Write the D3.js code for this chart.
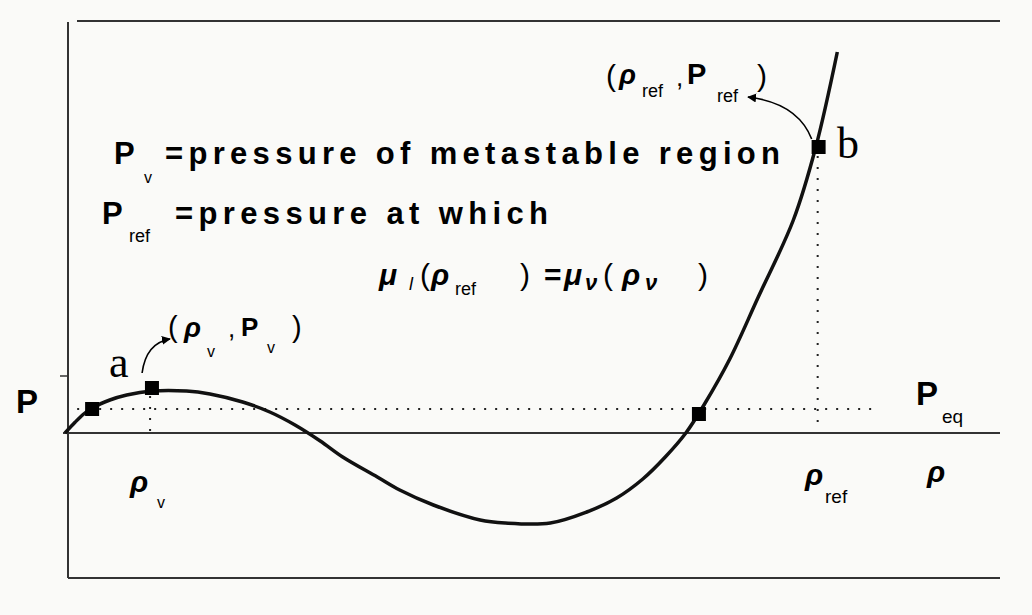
<!DOCTYPE html>
<html>
<head>
<meta charset="utf-8">
<script src="https://cdn.jsdelivr.net/npm/d3@7"></script>
<style>
  html, body { margin: 0; padding: 0; background: #fafaf8; }
  svg { display: block; }
  text { font-family: "Liberation Sans", Arial, sans-serif; fill: #000; }
</style>
</head>
<body>
<svg id="chart" width="1032" height="615"></svg>
<script>
// van der Waals-like isotherm: density (arbitrary units) vs pressure
const rho      = [0.00, 0.11, 0.20, 0.29, 0.48, 0.66, 0.93, 1.30, 1.55, 1.90, 2.19, 2.46, 2.73, 2.97, 3.34, 3.58, 3.94, 4.44, 4.71, 5.19, 5.58, 5.90, 6.18, 6.42, 6.64, 6.84, 7.11, 7.41, 7.79, 8.03, 8.26];
const pressure = [0.00, 0.11, 0.19, 0.25, 0.33, 0.38, 0.42, 0.42, 0.39, 0.31, 0.21, 0.08, -0.08, -0.24, -0.44, -0.57, -0.72, -0.87, -0.90, -0.90, -0.79, -0.65, -0.46, -0.24, 0.00, 0.29, 0.74, 1.35, 2.13, 2.86, 3.81];

// highlighted states on the isotherm
const markerRho = [0.29, 0.93, 6.78, 8.06];
const markerP   = [0.24, 0.45, 0.19, 2.86];

// reference levels
const pEq = 0.24;
const pEqSpan = [0.13, 8.66];
const rhoV = 0.91, pV = 0.45;
const rhoRef = 8.05, pRef = 2.86;
const pTick = 0.57;

const svg = d3.select("#chart");
const x = d3.scaleLinear().domain([0, 10]).range([65, 1000]);
const y = d3.scaleLinear().domain([0, 1]).range([433, 333]);

const ink = "#111";
const frame = "#333";

// frame
const fr = { left: 68, top: 21, right: 1000, bottom: 578 };
svg.append("line").attr("x1", fr.left).attr("x2", fr.left).attr("y1", fr.top + 1).attr("y2", fr.bottom)
  .attr("stroke", frame).attr("stroke-width", 2);
svg.append("line").attr("x1", fr.left + 9).attr("x2", fr.right).attr("y1", fr.top).attr("y2", fr.top)
  .attr("stroke", frame).attr("stroke-width", 2);
svg.append("line").attr("x1", fr.left).attr("x2", fr.right).attr("y1", fr.bottom).attr("y2", fr.bottom)
  .attr("stroke", frame).attr("stroke-width", 2);

// P = 0 axis
svg.append("line").attr("x1", x(0) - 2).attr("x2", x(10)).attr("y1", y(0)).attr("y2", y(0))
  .attr("stroke", frame).attr("stroke-width", 2);

// small tick on the pressure side
svg.append("line").attr("x1", fr.left - 8).attr("x2", fr.left).attr("y1", y(pTick)).attr("y2", y(pTick))
  .attr("stroke", frame).attr("stroke-width", 1.5);

// dotted guides
function dotted(x1, y1, x2, y2) {
  svg.append("line").attr("x1", x1).attr("y1", y1).attr("x2", x2).attr("y2", y2)
    .attr("stroke", "#222").attr("stroke-width", 2).attr("stroke-dasharray", "2,9");
}
dotted(x(pEqSpan[0]), y(pEq), x(pEqSpan[1]), y(pEq));
dotted(x(rhoV), y(pV) + 8, x(rhoV), y(0) + 3);
dotted(x(rhoRef), y(pRef) + 9, x(rhoRef), y(0) - 6);

// isotherm
const pts = rho.map((r, i) => [r, pressure[i]]);
const line = d3.line().x(d => x(d[0])).y(d => y(d[1])).curve(d3.curveCatmullRom.alpha(0.5));
svg.append("path").datum(pts).attr("d", line)
  .attr("fill", "none").attr("stroke", ink).attr("stroke-width", 3.5).attr("stroke-linejoin", "round");

// square markers
const ms = 14;
svg.selectAll("rect.mk").data(markerRho.map((r, i) => [r, markerP[i]])).enter()
  .append("rect").attr("class", "mk")
  .attr("x", d => x(d[0]) - ms / 2).attr("y", d => y(d[1]) - ms / 2)
  .attr("width", ms).attr("height", ms).attr("fill", "#000");

// arrowheads
svg.append("defs").append("marker").attr("id", "head")
  .attr("viewBox", "0 0 10 10").attr("refX", 9).attr("refY", 5)
  .attr("markerWidth", 9).attr("markerHeight", 9).attr("markerUnits", "userSpaceOnUse")
  .attr("orient", "auto")
  .append("path").attr("d", "M0,0 L10,5 L0,10 z").attr("fill", "#000");

// arrow from b to its label
{
  const sx = x(rhoRef) - 6, sy = y(pRef) - 8;
  const ex = 748, ey = 97;
  svg.append("path").attr("d", `M${sx},${sy} Q${sx - 14},${ey + 6} ${ex},${ey}`)
    .attr("fill", "none").attr("stroke", "#000").attr("stroke-width", 1.6).attr("marker-end", "url(#head)");
}
// arrow from a to its label
{
  const sx = x(rhoV) - 8, sy = y(pV) - 15;
  const ex = 170, ey = 339;
  svg.append("path").attr("d", `M${sx},${sy} Q${sx + 4},${ey + 4} ${ex},${ey}`)
    .attr("fill", "none").attr("stroke", "#000").attr("stroke-width", 1.6).attr("marker-end", "url(#head)");
}

// text helper: each piece positioned on its own
function txt(str, px, py, size, opts = {}) {
  const t = svg.append("text").attr("x", px).attr("y", py)
    .style("font-size", size + "px")
    .style("font-weight", opts.bold ? "bold" : "normal")
    .style("font-style", opts.italic ? "italic" : "normal")
    .text(str);
  if (opts.family) t.style("font-family", opts.family);
  if (opts.len) t.attr("textLength", opts.len).attr("lengthAdjust", "spacing");
  return t;
}
const greek = (s) => ({ italic: true, bold: true, ...s });

// definitions
txt("P", 114, 164, 31, { bold: true });
txt("v", 144, 183, 16);
txt("=pressure of metastable region", 165, 164, 31, { bold: true, len: 615 });

txt("P", 102, 224, 31, { bold: true });
txt("ref", 129, 242, 18);
txt("=pressure at which", 175, 224, 31, { bold: true, len: 373 });

// equal chemical potentials
txt("μ", 379, 285, 30, greek());
txt("l", 409, 290, 18, { italic: true });
txt("(", 420, 285, 30);
txt("ρ", 431, 285, 30, greek());
txt("ref", 455, 295, 18);
txt(")", 520, 285, 30);
txt("=", 544, 285, 30, { bold: true });
txt("μ", 564, 285, 30, greek());
txt("ν", 585, 290, 22, greek());
txt("(", 603, 285, 30);
txt("ρ", 622, 285, 30, greek());
txt("ν", 645, 290, 22, greek());
txt(")", 698, 285, 30);

// state labels
txt("(", 168, 337, 29);
txt("ρ", 184, 337, 28, greek());
txt("v", 207, 357, 16);
txt(",", 228, 337, 26);
txt("P", 241, 336, 26, { bold: true });
txt("v", 267, 353, 16);
txt(")", 292, 337, 29);

txt("(", 606, 86, 30);
txt("ρ", 619, 84, 28, greek());
txt("ref", 642, 97, 18);
txt(",", 676, 86, 26);
txt("P", 687, 84, 29, { bold: true });
txt("ref", 717, 102, 18);
txt(")", 757, 86, 30);

txt("a", 109, 377, 44, { family: "'Liberation Serif', 'Times New Roman', serif" });
txt("b", 837, 158, 44, { family: "'Liberation Serif', 'Times New Roman', serif" });

// axis labels
txt("P", 16, 413, 33, { bold: true });
txt("P", 916, 405, 33, { bold: true });
txt("eq", 942, 423, 19);

txt("ρ", 130, 492, 30, greek());
txt("v", 157, 508, 16);
txt("ρ", 805, 485, 30, greek());
txt("ref", 825, 503, 19);
txt("ρ", 927, 482, 30, greek());
</script>
</body>
</html>
